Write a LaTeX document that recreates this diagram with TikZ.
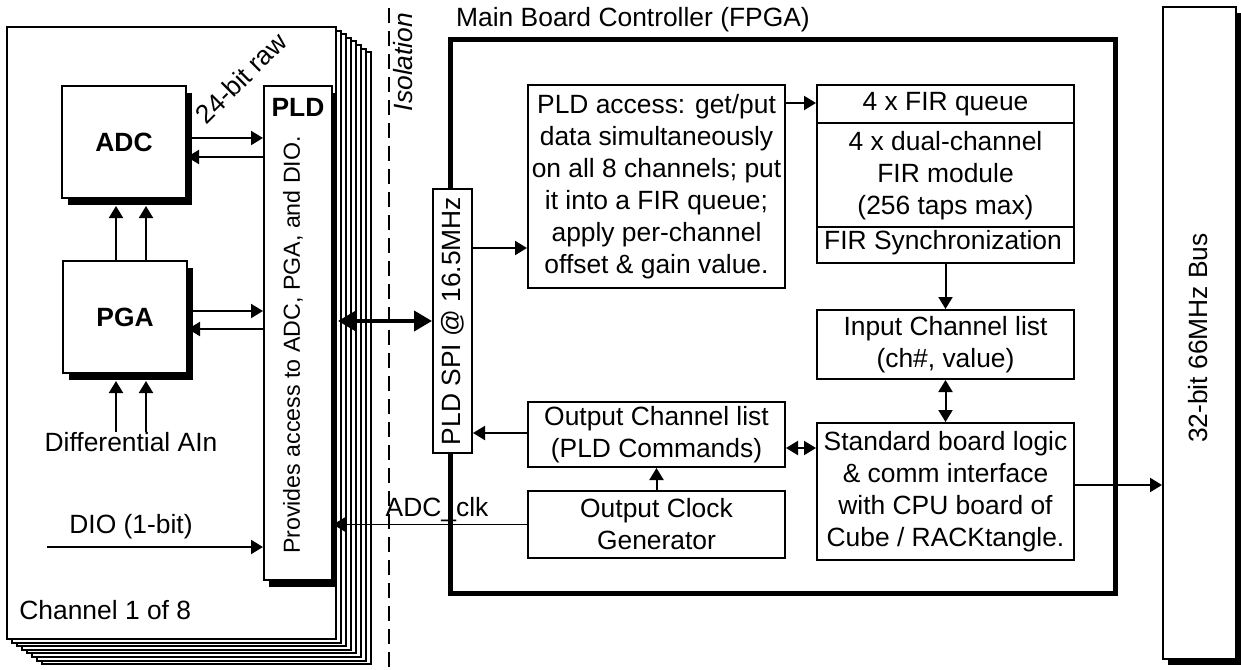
\documentclass[tikz,border=0pt]{standalone}
\usepackage{fontspec}
\setmainfont{Liberation Sans}
\usetikzlibrary{arrows.meta}
\newcommand\dfont{\fontsize{13.2}{16}\selectfont}
\newcommand\sfont{\fontsize{11.6}{14}\selectfont}
\tikzset{
  px/.style={x=0.5pt,y=-0.5pt},
  box/.style={draw,line width=1pt,fill=white,inner sep=0pt,align=center},
  shadowbar/.style={fill=black},
  lbl/.style={inner sep=0pt,align=center},
  arr/.style={line width=1pt,-{Triangle[length=6pt,width=7pt]}},
  darr/.style={line width=1pt,{Triangle[length=6pt,width=7pt]}-{Triangle[length=6pt,width=7pt]}},
  bigarr/.style={line width=2pt,{Triangle[length=9pt,width=10pt]}-{Triangle[length=9pt,width=10pt]}},
}
\begin{document}
\begin{tikzpicture}[px,font=\dfont]
\useasboundingbox (0,0) rectangle (1241,669);

% stack of eight channel cards
\foreach \k in {7,...,1}
  \draw[line width=1pt,fill=white] ({7+5*\k},{27+3.6*\k}) rectangle ({336+5*\k},{639+3.6*\k});
\node[box,minimum width=164.5pt,minimum height=306pt] (ch) at (171.5,333) {};
\node[lbl,anchor=west] (chl) at (19,610) {Channel 1 of 8};

% solid shadows under the channel blocks
\fill[shadowbar] (68,93) rectangle (192,205);
\fill[shadowbar] (69,268) rectangle (193,380);
\fill[shadowbar] (269,93) rectangle (337,587);

% channel parts
\node[box,minimum width=62pt,minimum height=56pt,font=\dfont\bfseries] (adc) at (124,142) {ADC};
\node[box,minimum width=62pt,minimum height=56pt,font=\dfont\bfseries] (pga) at (125,317) {PGA};
\node[box,minimum width=34pt,minimum height=247pt] (pld) at (298,333) {};
\node[lbl,font=\dfont\bfseries] (pldt) at (298,107) {PLD};
\node[lbl,rotate=90,font=\sfont] (pldd) at (293,345) {Provides access to ADC, PGA, and DIO.};
\node[lbl,rotate=45] (raw) at (241,78) {24-bit raw};
\node[lbl] (ain) at (131,442) {Differential AIn};
\node[lbl] (dio) at (131,527) {DIO (1-bit)};
\coordinate (dioin) at (47,547);
\coordinate (adcsh) at ([yshift=-3.5pt]adc.south);
\coordinate (pgash) at ([yshift=-3.5pt]pga.south);
\coordinate (pldsh) at ([xshift=2.5pt]pld.east);

% isolation barrier
\coordinate (isotop) at (389,8);
\coordinate (isobot) at (389,669);
\draw[line width=1pt,dash pattern=on 7.5pt off 4pt] (isotop) -- (isobot);
\node[lbl,rotate=90,font=\dfont\itshape] (iso) at (403,62) {Isolation};

% main board controller
\draw[line width=2.5pt] (450,39) rectangle (1115,593);
\node[lbl] (mbt) at (633,20) {Main Board Controller (FPGA)};
\node[box,minimum width=19.5pt,minimum height=132pt] (spi) at (452.5,321) {};
\node[lbl,rotate=90] (spit) at (452.5,321) {PLD SPI @ 16.5MHz};

\node[box,minimum width=128.5pt,minimum height=101.5pt] (access) at (656.5,186.5)
  {PLD access: get/put\\data simultaneously\\on all 8 channels; put\\it into a FIR queue;\\apply per-channel\\offset \& gain value.};
\node[box,minimum width=128.5pt,minimum height=89pt] (fir) at (945.5,174) {};
\draw[line width=1pt] (fir.west |- 0,123) -- (fir.east |- 0,123);
\draw[line width=1pt] (fir.west |- 0,227) -- (fir.east |- 0,227);
\node[lbl] (firq) at (945.5,104) {4 x FIR queue};
\node[lbl] (firm) at (945.5,176) {4 x dual-channel\\FIR module\\(256 taps max)};
\node[lbl] (firs) at (943,243) {FIR Synchronization};
\node[box,minimum width=128.5pt,minimum height=34.5pt] (input) at (945.5,344.5) {Input Channel list\\(ch\#, value)};
\node[box,minimum width=128.5pt,minimum height=68.5pt] (std) at (945.5,491.5)
  {Standard board logic\\\& comm interface\\with CPU board of\\Cube / RACKtangle.};
\node[box,minimum width=128.5pt,minimum height=32.5pt] (outlist) at (656.5,434.5) {Output Channel list\\(PLD Commands)};
\node[box,minimum width=128.5pt,minimum height=33.5pt] (clock) at (656.5,524.5) {Output Clock\\Generator};

% system bus
\fill[shadowbar] (1168,13) rectangle (1241,665);
\node[box,minimum width=36.5pt,minimum height=326pt] (bus) at (1199.5,333) {};
\node[lbl,rotate=90] (busl) at (1198,338) {32-bit 66MHz Bus};

% connections inside a channel
\draw[arr] (adc.east |- 0,138) -- (pld.west |- 0,138);
\draw[arr] (pld.west |- 0,157) -- (adc.east |- 0,157);
\draw[arr] (pga.east |- 0,311) -- (pld.west |- 0,311);
\draw[arr] (pld.west |- 0,329) -- (pga.east |- 0,329);
\draw[arr] (pga.north -| 116,0) -- (adcsh -| 116,0);
\draw[arr] (pga.north -| 146,0) -- (adcsh -| 146,0);
\draw[arr] (ain.north -| 116,0) -- (pgash -| 116,0);
\draw[arr] (ain.north -| 146,0) -- (pgash -| 146,0);
\draw[arr] (dioin) -- (pld.west |- dioin);

% across the barrier
\draw[bigarr] (pldsh |- spi.west) -- (spi.west);
\draw[arr,line width=0.8pt] (clock.west) -- (pld.east |- clock.west);
\node[lbl] (clk) at (437,510) {ADC\_clk};

% connections on the main board
\draw[arr] (spi.east |- 0,248) -- (access.west |- 0,248);
\draw[arr] (access.east |- 0,103) -- (fir.west |- 0,103);
\draw[arr] (fir.south) -- (input.north);
\draw[darr] (input.south) -- (std.north);
\draw[darr] (outlist.east |- 0,448) -- (std.west |- 0,448);
\draw[arr] (outlist.west |- 0,433) -- (spi.east |- 0,433);
\draw[arr] (clock.north) -- (outlist.south);
\draw[arr] (std.east |- 0,485) -- (bus.west |- 0,485);
\end{tikzpicture}
\end{document}
